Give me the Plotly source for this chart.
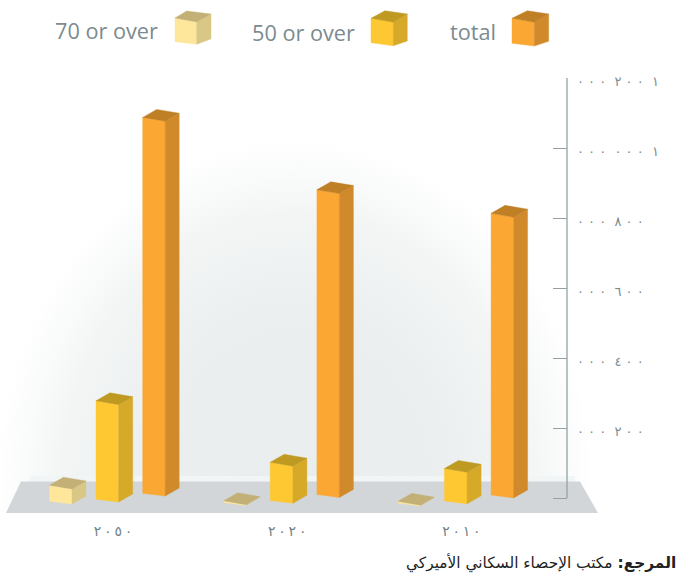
import base64
import plotly.graph_objects as go

W, H = 678, 578
NN = "\u202f"
NB = "\u00a0"
# ---- data ----
years = ["٢٠٥٠", "٢٠٢٠", "٢٠١٠"]
total = [1074000, 871000, 805000]
over50 = [281000, 109000, 93000]
over70 = [46000, 5000, 5000]
y_tick_values = [0, 200000, 400000, 600000, 800000, 1000000, 1200000]
y_tick_labels = ["", "٢٠٠ ٠٠٠", "٤٠٠ ٠٠٠", "٦٠٠ ٠٠٠", "٨٠٠ ٠٠٠", "١ ٠٠٠ ٠٠٠", "١ ٢٠٠ ٠٠٠"]
series_names = ["70 or over", "50 or over", "total"]
source_bold = "المرجع:"
source_text = "مكتب الإحصاء السكاني الأميركي"


def spaced(label, joiner, gap):
    """Open the digits out; a no-break space keeps each digit group in reading order."""
    return gap.join(joiner.join(group) for group in label.split(" ")) if label else label


# ---- geometry ----
AX_X, AX_TOP, AX_BOT, PLOT_BOT = 567, 78, 498, 513
Y_MAX = 1200000
GROUP_X0, GROUP_STEP = 113.0, 174.2
PX_Y = Y_MAX / (AX_BOT - AX_TOP)


def px_x(dx):
    return dx / GROUP_STEP


def px_y(dy):
    return dy * PX_Y


styles = [
    dict(off=-63.5, w=22.5, lift=-3.3, front="#fee79b", side="#d9c885", top="#c3b077"),
    dict(off=-17.0, w=22.7, lift=-1.2, front="#fec832", side="#d6a928", top="#bf9a22"),
    dict(off=29.7, w=22.5, lift=4.7, front="#fba733", side="#d08a2b", top="#bf7f25"),
]
group_shift = [0.0, -1.3, -1.8]
DEPTH_X, DEPTH_Y, SKEW_B, SKEW_T = 14.0, 8.0, 2.8, 3.8

fig = go.Figure()


def face(xs, ys, color):
    fig.add_trace(go.Scatter(x=xs + xs[:1], y=ys + ys[:1], mode="lines", fill="toself",
                             fillcolor=color, line=dict(color=color, width=0.4),
                             hoverinfo="skip", showlegend=False))


for gi in range(len(years)):
    for values, s in zip([over70, over50, total], styles):
        x0 = gi + px_x(s["off"])
        x1 = x0 + px_x(s["w"])
        x2 = x1 + px_x(DEPTH_X)
        x3 = x0 + px_x(DEPTH_X)
        b = px_y(s["lift"] + group_shift[gi])
        t = b + values[gi]
        skb, skt, dy = px_y(SKEW_B), px_y(SKEW_T), px_y(DEPTH_Y)
        face([x0, x1, x1, x0], [b, b - skb, t - skt, t], s["front"])
        face([x1, x2, x2, x1], [b - skb, b - skb + dy, t - skt + dy, t - skt], s["side"])
        face([x0, x1, x2, x3], [t, t - skt, t - skt + dy, t + dy], s["top"])

# ---- background glow (radial gradient image), floor ----
svg = f"""<svg xmlns="http://www.w3.org/2000/svg" width="{W}" height="{H}" viewBox="0 0 {W} {H}">
<defs><radialGradient id="g" gradientUnits="userSpaceOnUse" cx="0" cy="0" r="1"
 gradientTransform="translate(295 485) scale(298 345)">
<stop offset="0" stop-color="#e9eded"/><stop offset="0.5" stop-color="#ebefef"/>
<stop offset="0.78" stop-color="#f3f5f5"/><stop offset="1" stop-color="#ffffff"/>
</radialGradient></defs>
<rect width="{W}" height="513" fill="url(#g)"/>
<rect x="30" y="476" width="545" height="6" fill="#f2f5f5"/>
</svg>"""
src = "data:image/svg+xml;base64," + base64.b64encode(svg.encode()).decode()


def pxp(x):
    return x / AX_X


def pyp(y):
    return (PLOT_BOT - y) / (PLOT_BOT - AX_TOP)


images = [dict(source=src, xref="paper", yref="paper", x=pxp(0), y=pyp(0),
               sizex=pxp(W), sizey=H / (PLOT_BOT - AX_TOP), xanchor="left", yanchor="top",
               sizing="stretch", layer="below")]


def path(points):
    return "M " + " L ".join(f"{pxp(a):.5f} {pyp(b):.5f}" for a, b in points) + " Z"


shapes = [dict(type="path", xref="paper", yref="paper", layer="below",
               path=path([(6, 513), (21, 481.5), (580, 481.5), (598, 513)]),
               fillcolor="#d3d6d9", line=dict(width=0)),
          # the value axis line stops at zero, above the bottom of the plot area
          dict(type="line", xref="paper", yref="y", x0=1, x1=1, y0=0, y1=Y_MAX,
               line=dict(color="#93a1a6", width=1.3))]

# legend cubes: left, front-right, side-right, apex x, tops and bottoms
legend_cubes = [
    (175, 196.7, 211, 186.7, 18, 22, 14, 11, 41.7, 44.3, 39, styles[0]),
    (371, 393.3, 407.3, 385, 18.3, 22.3, 14, 10.7, 42.8, 45.7, 41, styles[1]),
    (512, 534.3, 548.7, 527.3, 18.3, 22.3, 14, 10.7, 43.3, 46, 41.3, styles[2]),
]
for x0, x1, x2, xa, ytl, ytr, ytb, yap, ybl, ybr, ybs, s in legend_cubes:
    polys = [
        ([(x0, ytl), (x1, ytr), (x1, ybr), (x0, ybl)], s["front"]),
        ([(x1, ytr), (x2, ytb), (x2, ybs), (x1, ybr)], s["side"]),
        ([(x0, ytl), (xa, yap), (x2, ytb), (x1, ytr)], s["top"]),
    ]
    for p, c in polys:
        shapes.append(dict(type="path", xref="paper", yref="paper", path=path(p),
                           fillcolor=c, line=dict(width=0.4, color=c)))

annotations = []
GREY = "#7b8b90"
for name, xr, yc in zip(series_names, [160, 356.5, 497.5], [30.5, 32.5, 31.5]):
    annotations.append(dict(text=name, xref="paper", yref="paper", x=pxp(xr), y=pyp(yc),
                            xanchor="right", yanchor="middle", showarrow=False,
                            font=dict(family="Open Sans", size=21.7, color=GREY)))
annotations.append(dict(
    text=f"<b>{source_bold}</b> {source_text}", xref="paper", yref="paper",
    x=pxp(678), y=pyp(563), xanchor="right", yanchor="middle", showarrow=False,
    font=dict(family="DejaVu Sans", size=15.4, color="#222222")))

fig.update_layout(
    width=W, height=H,
    margin=dict(l=0, r=W - AX_X, t=AX_TOP, b=H - PLOT_BOT, pad=0),
    paper_bgcolor="white", plot_bgcolor="rgba(0,0,0,0)",
    showlegend=False, shapes=shapes, annotations=annotations, images=images,
    xaxis=dict(range=[-GROUP_X0 / GROUP_STEP, (AX_X - GROUP_X0) / GROUP_STEP],
               tickmode="array", tickvals=list(range(len(years))),
               ticktext=[spaced(y, NN, " ") for y in years],
               showgrid=False, zeroline=False, showline=False,
               ticks="outside", ticklen=5, tickcolor="rgba(0,0,0,0)",
               tickfont=dict(family="DejaVu Sans", size=14, color="#71828a")),
    yaxis=dict(range=[-(PLOT_BOT - AX_BOT) * PX_Y, Y_MAX], side="right", tickmode="array",
               tickvals=y_tick_values, ticktext=[spaced(t, NB, "  ") for t in y_tick_labels],
               showgrid=False, zeroline=False, showline=False,
               ticks="inside", ticklen=14, tickwidth=1, tickcolor="#93a1a6",
               ticklabelstandoff=9, ticklabelshift=3,
               tickfont=dict(family="DejaVu Sans", size=13, color=GREY)),
)
fig.write_html("out.html", post_script="document.body.style.margin='0';",
               config=dict(displayModeBar=False))
